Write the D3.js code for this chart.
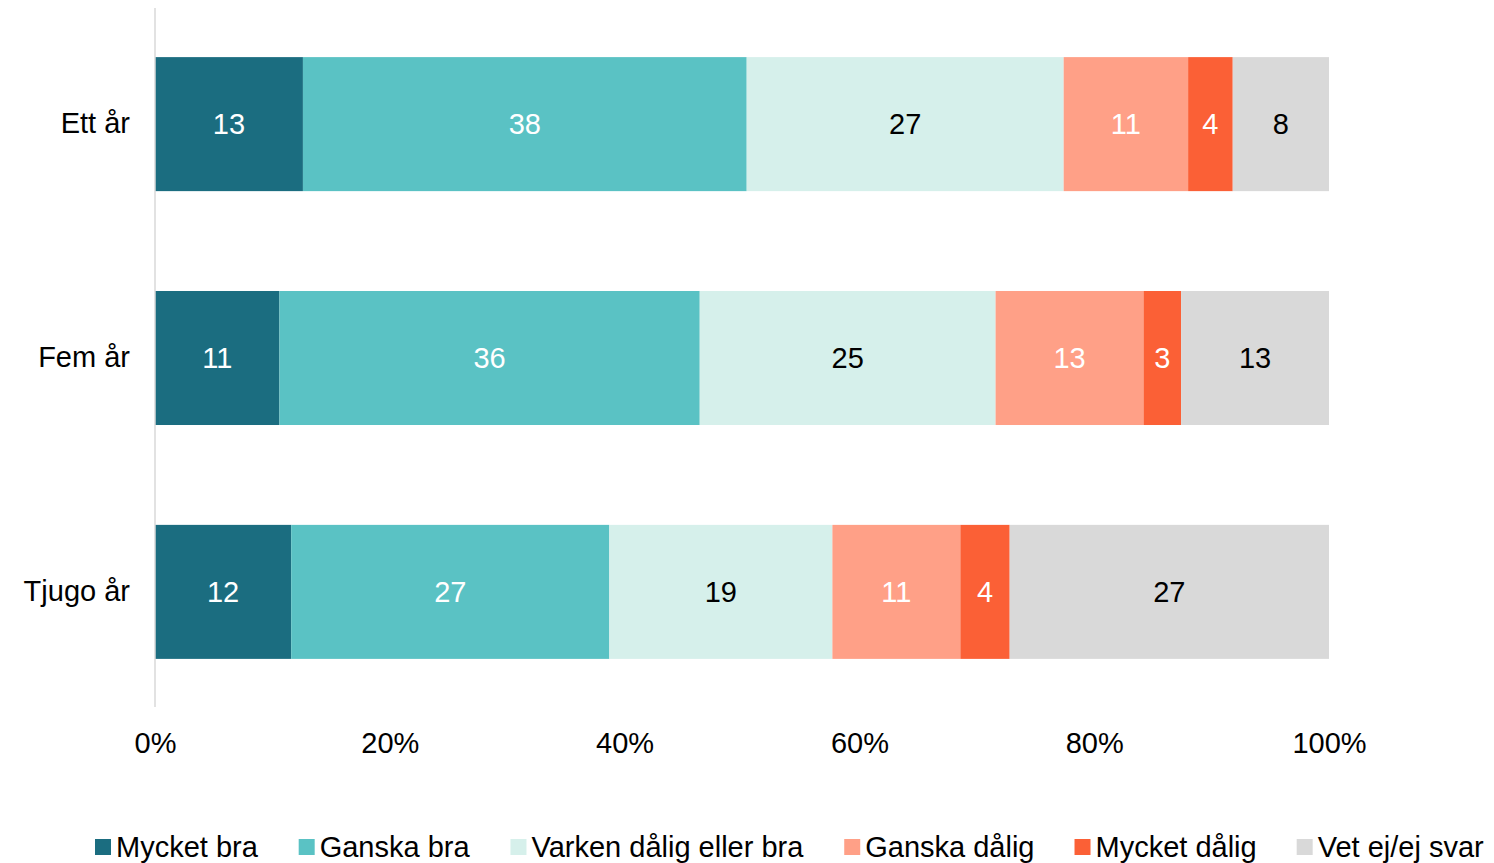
<!DOCTYPE html>
<html>
<head>
<meta charset="utf-8">
<script src="https://cdn.jsdelivr.net/npm/d3@7"></script>
<style>
    body { margin: 0; background: #fff; }
    #chart { width: 1494px; height: 863px; }
    text { font-family: "Liberation Sans", Arial, sans-serif; }
</style>
</head>
<body>
<div id="chart"></div>
<script>
const categories = ["Ett år", "Fem år", "Tjugo år"];
const seriesNames = ["Mycket bra", "Ganska bra", "Varken dålig eller bra", "Ganska dålig", "Mycket dålig", "Vet ej/ej svar"];
const mycketBra = [12.6, 10.6, 11.6];
const ganskaBra = [37.8, 35.8, 27.1];
const varken = [27.0, 25.2, 19.0];
const ganskaDalig = [10.6, 12.6, 10.9];
const mycketDalig = [3.8, 3.2, 4.2];
const vetEj = [8.2, 12.6, 27.2];
const xTicks = [0, 20, 40, 60, 80, 100];

const colors = ["#1b6d80", "#5ac2c4", "#d6f0eb", "#ffa087", "#fb6036", "#d9d9d9"];
const labelColors = ["#fff", "#fff", "#000", "#fff", "#fff", "#000"];

const width = 1494;
const height = 863;
const fontSize = 29;

const rows = categories.map((c, i) => ({
    category: c,
    "Mycket bra": mycketBra[i],
    "Ganska bra": ganskaBra[i],
    "Varken dålig eller bra": varken[i],
    "Ganska dålig": ganskaDalig[i],
    "Mycket dålig": mycketDalig[i],
    "Vet ej/ej svar": vetEj[i]
}));

const svg = d3.select("#chart")
    .append("svg")
    .attr("width", width)
    .attr("height", height);

const xScale = d3.scaleLinear()
    .domain([0, 100])
    .range([155, 1329]);

const yScale = d3.scaleBand()
    .domain(categories)
    .range([8, 708])
    .paddingInner(0.427)
    .paddingOuter(0.21);

const stacked = d3.stack().keys(seriesNames)(rows);

// Bars
const layers = svg.append("g")
    .selectAll("g")
    .data(stacked)
    .join("g")
    .attr("fill", (d, i) => colors[i]);

layers.selectAll("rect")
    .data(d => d)
    .join("rect")
    .attr("x", d => xScale(d[0]))
    .attr("y", d => yScale(d.data.category))
    .attr("width", d => xScale(d[1]) - xScale(d[0]))
    .attr("height", yScale.bandwidth());

// Value labels
layers.each(function(layer, i) {
    d3.select(this).selectAll("text")
        .data(layer)
        .join("text")
        .attr("x", d => (xScale(d[0]) + xScale(d[1])) / 2)
        .attr("y", d => yScale(d.data.category) + yScale.bandwidth() / 2)
        .attr("dy", "0.35em")
        .attr("text-anchor", "middle")
        .attr("font-size", fontSize)
        .attr("fill", labelColors[i])
        .text(d => d3.format(".0f")(d[1] - d[0]));
});

// Vertical axis line
svg.append("line")
    .attr("x1", xScale(0))
    .attr("x2", xScale(0))
    .attr("y1", 8)
    .attr("y2", 707)
    .attr("stroke", "#d9d9d9")
    .attr("stroke-width", 1.5);

// Category labels
const yAxis = d3.axisLeft(yScale).tickSize(0).tickPadding(25);
const yAxisGroup = svg.append("g")
    .attr("transform", `translate(${xScale(0)},0)`)
    .call(yAxis);
yAxisGroup.select(".domain").remove();
yAxisGroup.selectAll("text")
    .attr("font-size", fontSize)
    .attr("font-family", "Liberation Sans, Arial, sans-serif")
    .attr("fill", "#000");

// Percent axis
const xAxis = d3.axisBottom(xScale)
    .tickValues(xTicks)
    .tickSize(0)
    .tickPadding(0)
    .tickFormat(d => d + "%");
const xAxisGroup = svg.append("g")
    .attr("transform", "translate(0,732)")
    .call(xAxis);
xAxisGroup.select(".domain").remove();
xAxisGroup.selectAll("text")
    .attr("font-size", fontSize)
    .attr("font-family", "Liberation Sans, Arial, sans-serif")
    .attr("dy", "0.72em")
    .attr("fill", "#000");

// Legend along the bottom
const legendGap = 40;
const legend = svg.append("g")
    .attr("transform", "translate(95,847)");
const items = legend.selectAll("g")
    .data(seriesNames)
    .join("g");

items.append("rect")
    .attr("width", 16)
    .attr("height", 16)
    .attr("y", -8)
    .attr("fill", (d, i) => colors[i]);

items.append("text")
    .attr("x", 21)
    .attr("dy", "0.35em")
    .attr("font-size", fontSize)
    .attr("fill", "#000")
    .text(d => d);

let offset = 0;
items.each(function() {
    const w = this.getBBox().width;
    d3.select(this).attr("transform", `translate(${offset},0)`);
    offset += w + legendGap;
});
</script>
</body>
</html>
